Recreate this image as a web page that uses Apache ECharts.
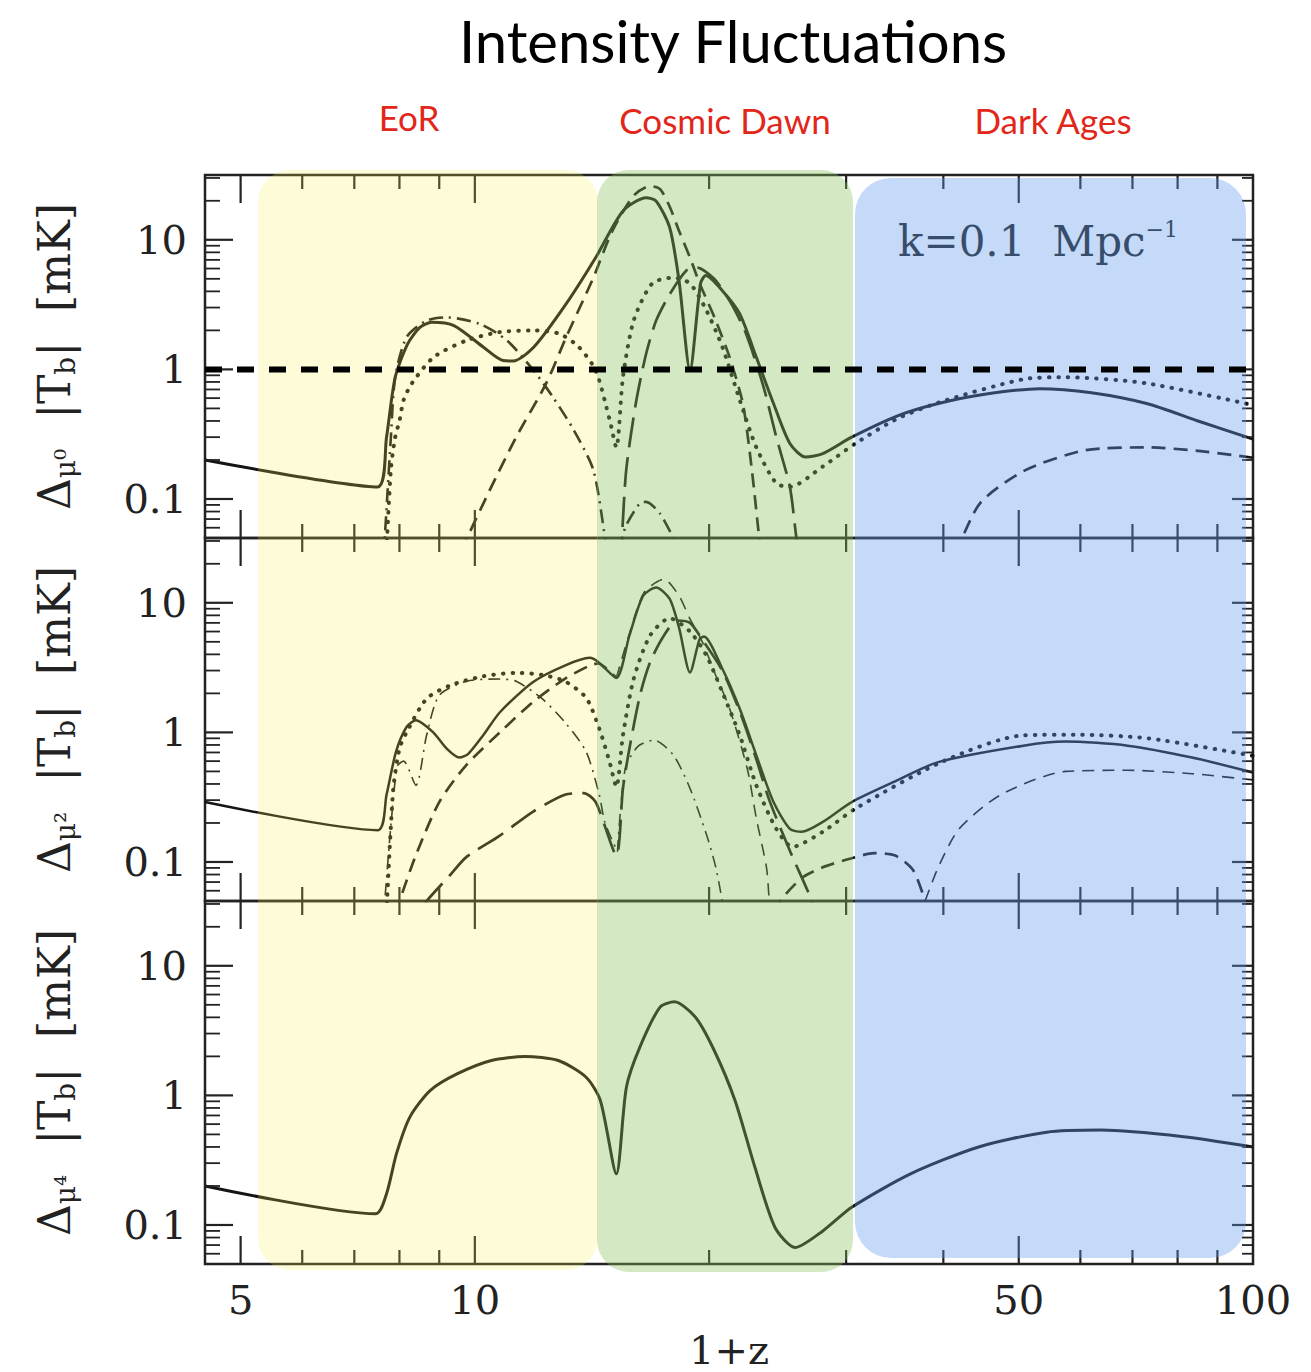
<!DOCTYPE html>
<html><head><meta charset="utf-8">
<script src="https://cdn.jsdelivr.net/npm/echarts@6/dist/echarts.min.js"></script>
<style>html,body{margin:0;padding:0;background:#fff}#c{width:1311px;height:1372px}</style>
</head><body><div id="c"></div>
<script>
// ---------- axes / ticks ----------
const xMin = 4.5, xMax = 100;
const yMin = 0.05, yMax = 31.62;
const xTickValues = [5, 6, 7, 8, 9, 10, 20, 30, 40, 50, 60, 70, 80, 90];
const xMajorTicks = [5, 10, 50];
const xLabelValues = [5, 10, 50, 100];
const yTickValues = [0.05, 0.06, 0.07, 0.08, 0.09, 0.1, 0.2, 0.3, 0.4, 0.5, 0.6, 0.7, 0.8, 0.9, 1, 2, 3, 4, 5, 6, 7, 8, 9, 10, 20, 30];
const yMajorTicks = [0.1, 1, 10];
const panelSubscripts = ['μ⁰', 'μ²', 'μ⁴'];
const regionLabels = ['EoR', 'Cosmic Dawn', 'Dark Ages'];

// ---------- panel 1 (mu^0) ----------
const p1Solid = [[4.5,0.20],[7.5,0.124],[7.7,0.30],[7.9,0.87],[8.2,1.58],[8.5,2.11],[8.8,2.31],[9.4,2.18],[10.25,1.49],[10.87,1.17],[11.2,1.16],[11.9,1.48],[13.1,3.2],[14.3,7.3],[15.5,16.7],[16.6,21.1],[17.1,19.9],[17.8,12.4],[18.3,4.8],[18.9,0.98],[19.5,4.6],[19.8,5.3],[20.8,4.05],[21.9,2.68],[23,1.24],[24.2,0.545],[25.4,0.268],[26.6,0.211],[28,0.224],[30.5,0.30],[35,0.44],[39.4,0.545],[45,0.64],[53.2,0.71],[62,0.66],[73,0.545],[85,0.40],[100,0.29]];
const p1Dot = [[7.7,0.04],[7.8,0.17],[7.9,0.30],[8.0,0.40],[8.1,0.58],[8.3,0.78],[8.85,1.24],[9.75,1.67],[10.76,1.94],[11.9,2.0],[12.85,1.88],[13.6,1.49],[14.3,0.98],[14.9,0.41],[15.2,0.25],[15.5,0.87],[16.0,2.38],[16.9,4.6],[18.0,5.1],[18.9,4.6],[19.85,2.84],[20.8,1.49],[21.9,0.58],[23.0,0.25],[24.4,0.132],[25.4,0.124],[28,0.178],[30.9,0.27],[35,0.42],[40,0.57],[50.7,0.84],[57.4,0.87],[73,0.78],[100,0.53]];
const p1DashA = [[9.6,0.04],[10.45,0.117],[11.3,0.30],[12.35,0.78],[13.1,1.77],[14.2,5.1],[15.0,11.5],[16.0,21.9],[16.8,26],[17.3,24.6],[17.8,18],[18.3,11.7],[18.9,7.3],[19.45,4.6],[20.4,2.38],[21.25,1.24],[22.1,0.545],[22.7,0.167],[23.2,0.05],[23.4,0.035]];
const p1DashB = [[41.5,0.038],[44.6,0.093],[51,0.167],[60.9,0.238],[73.3,0.25],[85,0.235],[100,0.208]];
const p1LongDash = [[15.35,0.03],[15.45,0.05],[15.65,0.167],[16.1,0.545],[16.6,1.32],[17.1,2.38],[17.8,3.8],[18.7,5.8],[19.3,6.1],[20.3,5.0],[21.3,3.3],[22.3,1.9],[23.5,0.73],[24.4,0.30],[25.4,0.124],[25.9,0.05],[26.1,0.04]];
const p1DashDotA = [[7.63,0.035],[7.66,0.05],[7.8,0.30],[7.9,0.87],[8.17,1.77],[8.67,2.38],[9.2,2.52],[10.15,2.24],[11.0,1.67],[11.9,0.98],[12.6,0.61],[13.4,0.34],[14.2,0.167],[14.7,0.05],[14.8,0.035]];
const p1DashDotB = [[15.4,0.04],[15.6,0.06],[16.3,0.093],[16.6,0.095],[17.3,0.077],[18.0,0.05],[18.2,0.045]];
const p1Unity = [[4.5,1],[100,1]];

// ---------- panel 2 (mu^2) ----------
const p2Solid = [[4.5,0.29],[7.5,0.176],[7.7,0.33],[7.92,0.71],[8.17,1.1],[8.4,1.24],[8.84,1.0],[9.2,0.75],[9.55,0.64],[9.8,0.68],[10.25,0.95],[10.77,1.43],[11.87,2.44],[13.05,3.28],[14.05,3.76],[14.4,3.5],[15.2,2.63],[15.8,5.6],[16.45,11.3],[17.1,13.1],[17.8,10.7],[18.3,6.4],[18.9,2.9],[19.45,5.25],[19.7,5.5],[20.8,3.1],[21.9,1.52],[23,0.665],[24.2,0.29],[25.4,0.18],[26.3,0.171],[28,0.204],[30.5,0.29],[35,0.43],[39.4,0.59],[50.7,0.79],[57.4,0.85],[69,0.79],[83.5,0.64],[100,0.49]];
const p2Dot = [[7.7,0.04],[7.85,0.35],[8.0,0.75],[8.17,1.0],[8.67,1.82],[9.29,2.3],[10.25,2.71],[11.3,2.88],[12.2,2.78],[13.05,2.48],[13.9,1.85],[14.45,1.07],[14.9,0.59],[15.2,0.38],[15.5,0.95],[16.0,2.59],[16.8,5.6],[17.8,7.6],[18.9,6.0],[19.85,3.9],[20.8,2.04],[21.9,0.95],[23,0.39],[24.4,0.18],[25.6,0.131],[28,0.171],[30.9,0.26],[40,0.6],[50.7,0.95],[59.6,0.96],[73.3,0.9],[100,0.66]];
const p2DashA = [[7.9,0.04],[8.0,0.05],[8.4,0.113],[9.0,0.29],[9.75,0.56],[10.77,1.0],[11.87,1.71],[13.05,2.59],[14.05,3.28],[14.4,3.4],[15.2,2.63]];
const p2DashThinA = [[15.2,2.63],[15.8,5.8],[16.5,12],[17.5,15.2],[18.3,11.3],[18.9,7.5],[19.6,5.0],[20.4,2.75],[21.25,1.53],[22.4,0.52],[23,0.217],[23.7,0.091],[23.9,0.05],[24.0,0.04]];
const p2DashB = [[24.5,0.04],[24.7,0.05],[26.3,0.075],[28,0.091],[30.5,0.107],[32.6,0.117],[34.7,0.112],[36.6,0.086],[37.9,0.05]];
const p2DashThinB = [[37.9,0.05],[39.4,0.091],[41.9,0.18],[47.4,0.33],[57.4,0.50],[69,0.51],[83.5,0.48],[100,0.43]];
const p2LongDash = [[8.6,0.045],[8.67,0.05],[9.29,0.079],[9.75,0.109],[10.77,0.16],[11.87,0.244],[13.05,0.33],[13.8,0.34],[14.3,0.29],[15.2,0.113],[15.5,0.37],[15.8,0.75],[16.3,1.93],[16.8,3.5],[17.5,5.6],[18.2,7.3],[18.9,7.0],[19.6,5.2],[20.8,3.0],[21.9,1.45],[23,0.62],[23.9,0.30],[25.4,0.122],[26.9,0.056],[27.2,0.045]];
const p2DashDotA = [[7.63,0.035],[7.66,0.05],[7.8,0.19],[7.95,0.55],[8.1,0.6],[8.4,0.39],[8.67,0.95],[9.0,1.93],[9.75,2.48],[10.77,2.58],[11.3,2.48],[12.2,1.82],[13.05,1.2],[13.9,0.71],[14.45,0.33],[14.7,0.2],[15.25,0.12]];
const p2DashDotB = [[15.25,0.12],[15.6,0.52],[16.2,0.78],[17,0.87],[18,0.665],[18.9,0.37],[19.85,0.162],[20.4,0.091],[20.8,0.05],[20.9,0.045]];

// ---------- panel 3 (mu^4) ----------
const p3Solid = [[4.5,0.20],[7.46,0.122],[7.7,0.174],[7.93,0.355],[8.25,0.68],[8.76,1.09],[9.5,1.47],[10.5,1.86],[11.6,2.0],[12.8,1.86],[13.9,1.38],[14.5,0.91],[15.2,0.248],[15.66,1.16],[16.3,2.37],[17.3,4.8],[18.05,5.27],[19.2,4.03],[20.3,2.23],[21.6,0.91],[22.9,0.28],[24.3,0.096],[25.8,0.067],[28,0.090],[30.5,0.137],[36.3,0.248],[44.4,0.40],[54.3,0.52],[63.8,0.54],[81.4,0.48],[100,0.40]];

// ---------- styles ----------
const INK = '#151515';
const SERIF = '"DejaVu Serif", serif';
const SOLID = { type: 'solid', width: 3 };
const SOLID_2 = { type: 'solid', width: 2.5 };
const DOT = { type: [0.5, 9], width: 4, cap: 'round' };
const DASH = { type: [14, 8], width: 2.7 };
const DASH_T = { type: [12, 8], width: 1.6 };
const LDASH = { type: [30, 10], width: 2.7 };
const DDOT = { type: [14, 6, 2, 6], width: 2.6 };
const DDOT_T = { type: [12, 6, 2, 6], width: 1.6 };

function line(gi, data, st, z) {
  return {
    type: 'line', xAxisIndex: gi, yAxisIndex: gi, data: data,
    symbol: 'none', showSymbol: false, smooth: 0.25, clip: true, silent: true,
    z: z || 2,
    lineStyle: Object.assign({ color: INK }, st)
  };
}

function frameTicks(gi) {
  return {
    type: 'custom', xAxisIndex: gi, yAxisIndex: gi, silent: true, clip: false, z: 3,
    data: [[10, 1]],
    renderItem: function (params, api) {
      const kids = [];
      yTickValues.forEach(function (v) {
        const big = yMajorTicks.indexOf(v) >= 0;
        const l = api.coord([xMin, v]), r = api.coord([xMax, v]);
        kids.push({ type: 'line', shape: { x1: l[0], y1: l[1], x2: l[0] + (big ? 28 : 15), y2: l[1] }, style: { stroke: '#222', lineWidth: big ? 2.2 : 1.8 } });
        kids.push({ type: 'line', shape: { x1: r[0], y1: r[1], x2: r[0] - (big ? 21 : 11), y2: r[1] }, style: { stroke: '#222', lineWidth: big ? 2.2 : 1.8 } });
      });
      xTickValues.forEach(function (v) {
        const big = xMajorTicks.indexOf(v) >= 0;
        const b = api.coord([v, yMin]), t = api.coord([v, yMax]);
        kids.push({ type: 'line', shape: { x1: b[0], y1: b[1], x2: b[0], y2: b[1] - (big ? 28 : 14) }, style: { stroke: '#222', lineWidth: 2.2 } });
        kids.push({ type: 'line', shape: { x1: t[0], y1: t[1], x2: t[0], y2: t[1] + (big ? 28 : 14) }, style: { stroke: '#222', lineWidth: 2.2 } });
      });
      return { type: 'group', children: kids };
    }
  };
}

const gridTops = [175, 538, 901];
const grids = gridTops.map(function (t) {
  return { left: 205, width: 1048, top: t, height: 363, show: true, borderColor: '#222', borderWidth: 2.5, backgroundColor: 'transparent' };
});

const xAxes = [0, 1, 2].map(function (i) {
  return {
    type: 'log', logBase: 10, gridIndex: i, min: xMin, max: xMax,
    axisLine: { show: false }, axisTick: { show: false }, axisLabel: { show: false }, splitLine: { show: false },
    name: i === 2 ? '1+z' : '', nameLocation: 'middle', nameGap: 66,
    nameTextStyle: { fontFamily: SERIF, fontSize: 40, color: '#222' }
  };
});

const yAxes = [0, 1, 2].map(function (i) {
  return {
    type: 'log', logBase: 10, gridIndex: i, min: yMin, max: yMax,
    axisLine: { show: false }, axisTick: { show: false }, splitLine: { show: false },
    axisLabel: {
      margin: 18, fontFamily: SERIF, fontSize: 40, color: '#222',
      showMinLabel: false, showMaxLabel: false,
      formatter: function (v) {
        const l = Math.log10(v);
        return Math.abs(l - Math.round(l)) < 1e-6 ? String(+(+v).toPrecision(3)) : '';
      }
    },
    name: '{d|Δ}{s|' + panelSubscripts[i] + '}{g| }{d||T}{s|b}{d||}{g| }{d|[mK]}',
    nameLocation: 'middle', nameRotate: 90, nameGap: 126,
    nameTextStyle: {
      rich: {
        d: { fontFamily: SERIF, fontSize: 44, color: '#222', lineHeight: 50 },
        g: { fontFamily: SERIF, fontSize: 44, color: '#222', lineHeight: 50, width: 30 },
        s: { fontFamily: SERIF, fontSize: 28, color: '#222', verticalAlign: 'bottom', lineHeight: 50 }
      }
    }
  };
});

const series = [
  frameTicks(0), frameTicks(1), frameTicks(2),
  // panel 1
  line(0, p1Solid, SOLID),
  line(0, p1Dot, DOT),
  line(0, p1DashA, DASH),
  line(0, p1DashB, DASH),
  line(0, p1LongDash, LDASH),
  line(0, p1DashDotA, DDOT),
  line(0, p1DashDotB, DDOT),
  Object.assign(line(0, p1Unity, { type: [17, 15], width: 6, color: '#000' }, 150), { smooth: false }),
  // panel 2
  line(1, p2Solid, SOLID_2),
  line(1, p2Dot, DOT),
  line(1, p2DashA, DASH),
  line(1, p2DashThinA, DASH_T),
  line(1, p2DashB, DASH),
  line(1, p2DashThinB, DASH_T),
  line(1, p2LongDash, LDASH),
  line(1, p2DashDotA, DDOT_T),
  line(1, p2DashDotB, DDOT_T),
  // panel 3
  line(2, p3Solid, SOLID),
  // x tick labels
  {
    type: 'custom', xAxisIndex: 2, yAxisIndex: 2, silent: true, clip: false, z: 3,
    data: xLabelValues.map(function (v) { return [v, yMin]; }),
    renderItem: function (params, api) {
      const p = api.coord([api.value(0), api.value(1)]);
      return {
        type: 'text', x: p[0], y: p[1] + 36,
        style: { text: String(api.value(0)), font: '40px "DejaVu Serif"', fill: '#222', align: 'center', verticalAlign: 'middle', textAlign: 'center', textVerticalAlign: 'middle' }
      };
    }
  }
];

const regionX = [409, 725, 1053];
const graphics = [
  { type: 'text', x: 733, y: 40, z: 10, style: { text: 'Intensity Fluctuations', font: '58px Lato', fill: '#000', align: 'center', verticalAlign: 'middle' } },
  { type: 'text', x: regionX[0], y: 117, z: 10, style: { text: regionLabels[0], font: '35px Lato', fill: '#E2261A', align: 'center', verticalAlign: 'middle' } },
  { type: 'text', x: regionX[1], y: 120, z: 10, style: { text: regionLabels[1], font: '35px Lato', fill: '#E2261A', align: 'center', verticalAlign: 'middle' } },
  { type: 'text', x: regionX[2], y: 120, z: 10, style: { text: regionLabels[2], font: '35px Lato', fill: '#E2261A', align: 'center', verticalAlign: 'middle' } },
  { type: 'text', x: 898, y: 241, z: 5, style: { text: '{k|k=0.1  Mpc}{e|−1}', align: 'left', verticalAlign: 'middle',
      rich: { k: { fontFamily: SERIF, fontSize: 42, fill: '#222', color: '#222', lineHeight: 46 }, e: { fontFamily: SERIF, fontSize: 22, fill: '#222', color: '#222', verticalAlign: 'top', lineHeight: 46 } } } },
  // translucent region overlays (drawn over the curves, tinting them)
  { type: 'rect', z: 100, shape: { x: 258, y: 170, width: 340, height: 1100, r: 32 }, style: { fill: 'rgba(245,236,77,0.22)' } },
  { type: 'rect', z: 100, shape: { x: 597, y: 170, width: 256, height: 1102, r: 32 }, style: { fill: 'rgba(137,192,93,0.365)' } },
  { type: 'rect', z: 100, shape: { x: 855, y: 178, width: 391, height: 1080, r: 36 }, style: { fill: 'rgba(96,153,236,0.365)' } }
];

const chart = echarts.init(document.getElementById('c'), null, { renderer: 'svg', width: 1311, height: 1372 });
chart.setOption({
  animation: false,
  backgroundColor: '#ffffff',
  grid: grids,
  xAxis: xAxes,
  yAxis: yAxes,
  series: series,
  graphic: graphics
});
</script>
</body></html>
